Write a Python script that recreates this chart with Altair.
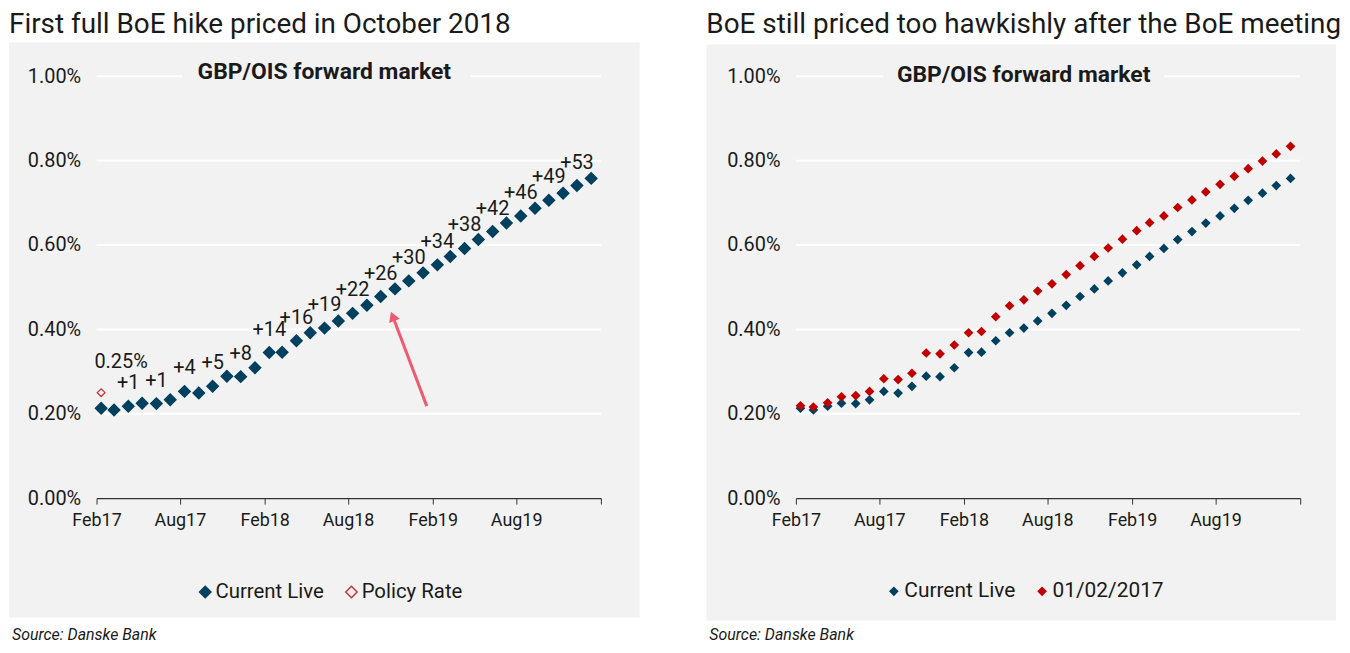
import altair as alt
import pandas as pd

FONT = "Roboto"
TXT = "#1a1a1a"
NAVY = "#00405f"
RED = "#c00000"
POLICY_RED = "#c8323c"
ARROW = "#ee5a6f"
PANEL = "#f2f2f2"

# ---------------- data ----------------
months = [
    "2017-02", "2017-03", "2017-04", "2017-05", "2017-06", "2017-07",
    "2017-08", "2017-09", "2017-10", "2017-11", "2017-12", "2018-01",
    "2018-02", "2018-03", "2018-04", "2018-05", "2018-06", "2018-07",
    "2018-08", "2018-09", "2018-10", "2018-11", "2018-12", "2019-01",
    "2019-02", "2019-03", "2019-04", "2019-05", "2019-06", "2019-07",
    "2019-08", "2019-09", "2019-10", "2019-11", "2019-12", "2020-01",
]
current_live = [0.213, 0.209, 0.218, 0.225, 0.224, 0.233, 0.253, 0.249, 0.265,
                0.289, 0.288, 0.309, 0.345, 0.346, 0.373, 0.392, 0.403, 0.420,
                0.438, 0.457, 0.478, 0.496, 0.515, 0.534, 0.553, 0.573, 0.592,
                0.613, 0.632, 0.652, 0.669, 0.687, 0.706, 0.723, 0.741, 0.758]
fwd_20170201 = [0.219, 0.216, 0.226, 0.240, 0.243, 0.253, 0.283, 0.281, 0.296,
                0.344, 0.342, 0.363, 0.392, 0.395, 0.430, 0.456, 0.470, 0.491,
                0.508, 0.530, 0.551, 0.573, 0.593, 0.614, 0.634, 0.653, 0.669,
                0.689, 0.707, 0.726, 0.744, 0.763, 0.781, 0.799, 0.816, 0.834]
hike_index = [2, 4, 6, 8, 10, 12, 14, 16, 18, 20, 22, 24, 26, 28, 30, 32, 34]
hike_labels = ["+1", "+1", "+4", "+5", "+8", "+14", "+16", "+19", "+22", "+26",
               "+30", "+34", "+38", "+42", "+46", "+49", "+53"]
policy_month = ["2017-02"]
policy_rate = [0.25]
policy_label = ["0.25%"]
y_ticks = [0.2, 0.4, 0.6, 0.8, 1.0]
arrow_from = ("2019-01-19", 0.218)
arrow_to = ("2018-11-06", 0.431)

DAY = "-11"

left_title = "First full BoE hike priced in October 2018"
right_title = "BoE still priced too hawkishly after the BoE meeting"
inner_title = "GBP/OIS forward market"
source = "Source: Danske Bank"

W, H = 507, 424

# ---------------- scales/axes ----------------
xscale = alt.Scale(type="utc", domain=[alt.DateTime(year=2017, month=2, date=1, utc=True),
                                       alt.DateTime(year=2020, month=2, date=1, utc=True)])
x_tick_vals = [alt.DateTime(year=y, month=m, date=1, utc=True)
               for (y, m) in [(2017, 2), (2017, 8), (2018, 2), (2018, 8), (2019, 2), (2019, 8), (2020, 2)]]
xaxis = alt.Axis(values=x_tick_vals, title=None, grid=False, zindex=1,
                 labelExpr="utcFormat(datum.value,'%Y')=='2020' ? '' : utcFormat(datum.value,'%b%y')",
                 domainColor="#333333", domainWidth=1.2, tickColor="#333333", tickSize=6,
                 labelFlush=False, labelOverlap=False,
                 labelFont=FONT, labelFontSize=18, labelColor=TXT, labelPadding=8)
yscale = alt.Scale(domain=[0, 1.0], nice=False)
yaxis = alt.Axis(values=[0.0] + y_ticks, title=None, grid=False, zindex=1, domain=False, ticks=False,
                 labelExpr="format(datum.value,'.2f') + '%'", labelFlush=False, labelOverlap=False,
                 labelFont=FONT, labelFontSize=20, labelColor=TXT, labelPadding=16)

one = pd.DataFrame({"a": [0]})


def X(field):
    return alt.X(field, scale=xscale, axis=xaxis)


def Y(field):
    return alt.Y(field, scale=yscale, axis=yaxis)


def decor(rx1, rx2, ry1, ry2, title, ty, src_y, box_x1, box_x2, inner_x, inner_y):
    bg = alt.Chart(one).mark_rect(color=PANEL).encode(
        x=alt.value(rx1), x2=alt.value(rx2), y=alt.value(ry1), y2=alt.value(ry2))
    ttl = alt.Chart(one).mark_text(align="left", baseline="alphabetic", font=FONT, fontSize=28,
                                   color=TXT).encode(
        x=alt.value(rx1), y=alt.value(ty), text=alt.value(title))
    src = alt.Chart(one).mark_text(align="left", baseline="middle", font=FONT, fontSize=16,
                                   fontStyle="italic", color=TXT).encode(
        x=alt.value(rx1 + 3), y=alt.value(src_y), text=alt.value(source))
    grid = alt.Chart(pd.DataFrame({"v": y_ticks})).mark_rule(color="white", strokeWidth=2).encode(
        y=Y("v:Q"))
    box = alt.Chart(one).mark_rect(color=PANEL).encode(
        x=alt.value(box_x1), x2=alt.value(box_x2), y=alt.value(inner_y - 12), y2=alt.value(inner_y + 12))
    inner = alt.Chart(one).mark_text(align="center", baseline="middle", font=FONT, fontSize=23,
                                     fontWeight="bold", color=TXT).encode(
        x=alt.value(inner_x), y=alt.value(inner_y), text=alt.value(inner_title))
    return [bg, ttl, src, grid, box, inner]


def legend_spec(lx, ly, ssize, fsize, colpad):
    return alt.Legend(orient="none", legendX=lx, legendY=ly, direction="horizontal", title=None,
                      labelFont=FONT, labelFontSize=fsize, labelColor=TXT, symbolType="diamond",
                      symbolSize=ssize, symbolStrokeWidth=1.5, columnPadding=colpad, labelOffset=0)


# ---------------- left panel ----------------
df_cl = pd.DataFrame({"date": [m + DAY for m in months], "value": current_live,
                      "series": "Current Live"})
df_pol = pd.DataFrame({"date": [m + DAY for m in policy_month], "value": policy_rate,
                       "series": "Policy Rate", "label": policy_label})
df_hike = pd.DataFrame({"date": [months[i] + DAY for i in hike_index],
                        "value": [current_live[i] for i in hike_index],
                        "label": hike_labels})
df_arrow = pd.DataFrame({"d1": [arrow_from[0]], "v1": [arrow_from[1]],
                         "d2": [arrow_to[0]], "v2": [arrow_to[1]]})

l_dom = ["Current Live", "Policy Rate"]
l_fill = alt.Scale(domain=l_dom, range=[NAVY, "rgba(0,0,0,0)"])
l_stroke = alt.Scale(domain=l_dom, range=[NAVY, POLICY_RED])
l_leg = legend_spec(99, 508, 130, 20.5, 17)

pts_l = alt.Chart(df_cl).mark_point(shape="diamond", size=130, strokeWidth=1.5, opacity=1).encode(
    x=X("date:T"), y=Y("value:Q"),
    fill=alt.Fill("series:N", scale=l_fill, legend=l_leg),
    stroke=alt.Stroke("series:N", scale=l_stroke, legend=l_leg),
)
pol_l = alt.Chart(df_pol).mark_point(shape="diamond", size=60, strokeWidth=1.3, opacity=1).encode(
    x=X("date:T"), y=Y("value:Q"),
    fill=alt.Fill("series:N", scale=l_fill, legend=l_leg),
    stroke=alt.Stroke("series:N", scale=l_stroke, legend=l_leg),
)
pol_txt = alt.Chart(df_pol).mark_text(font=FONT, fontSize=20, color=TXT, dx=20, dy=-31).encode(
    x=X("date:T"), y=Y("value:Q"), text="label:N")
hike_txt = alt.Chart(df_hike).mark_text(font=FONT, fontSize=20, color=TXT, dy=-23).encode(
    x=X("date:T"), y=Y("value:Q"), text="label:N")
arrow_line = alt.Chart(df_arrow).mark_rule(color=ARROW, strokeWidth=3).encode(
    x=X("d1:T"), x2="d2:T", y=Y("v1:Q"), y2="v2:Q")
arrow_head = alt.Chart(df_arrow).mark_point(shape="triangle-up", filled=True, size=130,
                                            color=ARROW, opacity=1, angle=339).encode(
    x=X("d2:T"), y=Y("v2:Q"))

left = alt.layer(
    *decor(-88, 546, -34, 544, left_title, -44, 562, 86, 376, 229, -4),
    arrow_line, arrow_head, pts_l, pol_l, pol_txt, hike_txt,
).properties(width=W, height=H)

# ---------------- right panel ----------------
df_r = pd.concat([
    pd.DataFrame({"date": [m + DAY for m in months], "value": current_live, "series2": "Current Live"}),
    pd.DataFrame({"date": [m + DAY for m in months], "value": fwd_20170201, "series2": "01/02/2017"}),
])
r_dom = ["Current Live", "01/02/2017"]
r_leg = legend_spec(88, 507, 95, 21, 16)
pts_r = alt.Chart(df_r).mark_point(shape="diamond", size=95, strokeWidth=0, filled=True, opacity=1).encode(
    x=X("date:T"), y=Y("value:Q"),
    color=alt.Color("series2:N", scale=alt.Scale(domain=r_dom, range=[NAVY, RED]), legend=r_leg),
)
right = alt.layer(
    *decor(-90, 543, -32, 547, right_title, -44, 562, 88, 370, 229, -1),
    pts_r,
).properties(width=W, height=H)

chart = alt.hconcat(left, right, spacing=65).resolve_scale(
    fill="independent", stroke="independent", color="independent"
).resolve_legend(fill="independent", stroke="independent", color="independent").configure_view(
    stroke=None).configure(background="white", padding=0)

chart.save("out.html", embed_options={"renderer": "svg", "actions": False})
